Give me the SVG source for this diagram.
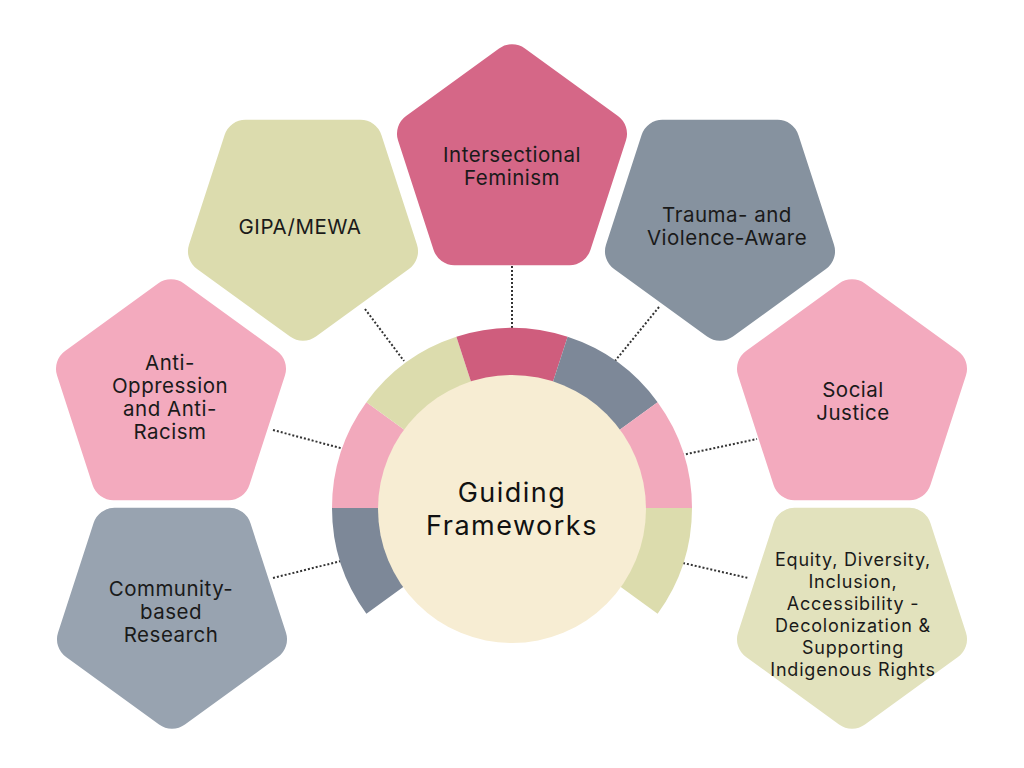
<svg xmlns="http://www.w3.org/2000/svg" xmlns:xlink="http://www.w3.org/1999/xlink" width="1024" height="768" viewBox="0 0 1024 768">
<style>
.lbl{font-family:Inter,"Noto Sans","Liberation Sans",sans-serif;font-size:20.5px;letter-spacing:0.5px;fill:#1a1a1a;text-anchor:middle}
.eq{font-size:18px;letter-spacing:0.8px}
.title{font-family:Inter,"Noto Sans","Liberation Sans",sans-serif;font-size:27px;letter-spacing:1.5px;fill:#111;text-anchor:middle}
.conn{stroke:#333;stroke-width:2;stroke-dasharray:2 2;fill:none}
</style>
<defs>
<path id="pent" d="M12.94,-115.6 L105.94,-48.03 A22 22 0 0 1 113.94,-23.41 L78.41,85.92 A22 22 0 0 1 57.47,101.13 L-57.47,101.13 A22 22 0 0 1 -78.41,85.92 L-113.94,-23.41 A22 22 0 0 1 -105.94,-48.03 L-12.94,-115.6 A22 22 0 0 1 12.94,-115.6 Z"/>
</defs>
<rect width="1024" height="768" fill="#fff"/>
<g id="connectors">
<line class="conn" x1="512" y1="266" x2="512" y2="328"/>
<line class="conn" x1="365" y1="309" x2="404" y2="361"/>
<line class="conn" x1="659" y1="307" x2="615" y2="361"/>
<line class="conn" x1="273" y1="430" x2="344" y2="449"/>
<line class="conn" x1="682" y1="455" x2="757" y2="439"/>
<line class="conn" x1="273" y1="578" x2="341" y2="561"/>
<line class="conn" x1="683" y1="563" x2="748" y2="578"/>
</g>
<g id="intersectional">
<use xlink:href="#pent" href="#pent" transform="translate(512,164)" fill="#D56787"/>
<text class="lbl" x="512" y="162"><tspan x="512" y="162">Intersectional</tspan><tspan x="512" y="185">Feminism</tspan></text>
</g>
<g id="gipa">
<use xlink:href="#pent" href="#pent" transform="translate(303,221) rotate(180)" fill="#DCDCAE"/>
<text class="lbl" x="300" y="234">GIPA/MEWA</text>
</g>
<g id="trauma">
<use xlink:href="#pent" href="#pent" transform="translate(720,221) rotate(180)" fill="#86929F"/>
<text class="lbl" x="727" y="222"><tspan x="727" y="222">Trauma- and</tspan><tspan x="727" y="245">Violence-Aware</tspan></text>
</g>
<g id="anti">
<use xlink:href="#pent" href="#pent" transform="translate(171,399)" fill="#F3AABE"/>
<text class="lbl" x="170" y="370"><tspan x="170" y="370">Anti-</tspan><tspan x="170" y="393">Oppression</tspan><tspan x="170" y="416">and Anti-</tspan><tspan x="170" y="439">Racism</tspan></text>
</g>
<g id="social">
<use xlink:href="#pent" href="#pent" transform="translate(852,399)" fill="#F3AABE"/>
<text class="lbl" x="853" y="397"><tspan x="853" y="397">Social</tspan><tspan x="853" y="420">Justice</tspan></text>
</g>
<g id="community">
<use xlink:href="#pent" href="#pent" transform="translate(172,609) rotate(180)" fill="#98A3B0"/>
<text class="lbl" x="171" y="596"><tspan x="171" y="596">Community-</tspan><tspan x="171" y="619">based</tspan><tspan x="171" y="642">Research</tspan></text>
</g>
<g id="equity">
<use xlink:href="#pent" href="#pent" transform="translate(852,609) rotate(180)" fill="#E2E2BD"/>
<text class="lbl eq" x="853" y="566"><tspan x="853" y="566">Equity, Diversity,</tspan><tspan x="853" y="588">Inclusion,</tspan><tspan x="853" y="610">Accessibility -</tspan><tspan x="853" y="632">Decolonization &amp;</tspan><tspan x="853" y="654">Supporting</tspan><tspan x="853" y="676">Indigenous Rights</tspan></text>
</g>
<g id="ring">
<path fill="#7D8898" d="M366.38,613.8 A180 180 0 0 1 332,508 L392,508 A120 120 0 0 0 414.92,578.54 Z"/>
<path fill="#F2A9BC" d="M332,508 A180 180 0 0 1 366.38,402.2 L414.92,437.46 A120 120 0 0 0 392,508 Z"/>
<path fill="#DCDCAD" d="M366.38,402.2 A180 180 0 0 1 456.38,336.8 L474.92,393.87 A120 120 0 0 0 414.92,437.46 Z"/>
<path fill="#CF5D7D" d="M456.38,336.8 A180 180 0 0 1 567.62,336.8 L549.08,393.87 A120 120 0 0 0 474.92,393.87 Z"/>
<path fill="#7D8898" d="M567.62,336.8 A180 180 0 0 1 657.62,402.2 L609.08,437.46 A120 120 0 0 0 549.08,393.87 Z"/>
<path fill="#F2A9BC" d="M657.62,402.2 A180 180 0 0 1 692,508 L632,508 A120 120 0 0 0 609.08,437.46 Z"/>
<path fill="#DCDCAD" d="M692,508 A180 180 0 0 1 657.62,613.8 L609.08,578.54 A120 120 0 0 0 632,508 Z"/>
</g>
<g id="center">
<circle cx="512" cy="509" r="134" fill="#F7EDD3"/>
<text class="title" x="512" y="502"><tspan x="512" y="502">Guiding</tspan><tspan x="512" y="535">Frameworks</tspan></text>
</g>
</svg>
